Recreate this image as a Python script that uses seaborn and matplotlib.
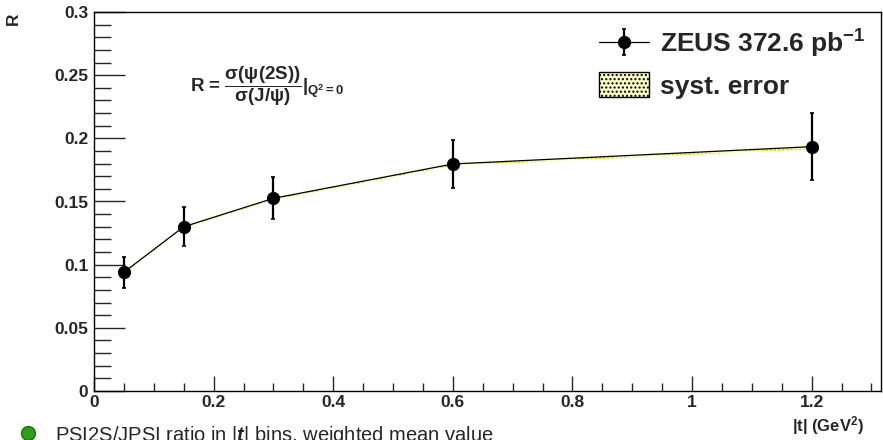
import numpy as np
import pandas as pd
import matplotlib
matplotlib.use("Agg")
import matplotlib.pyplot as plt
import seaborn as sns
from matplotlib.lines import Line2D
from matplotlib.patches import Patch
from matplotlib.legend_handler import HandlerTuple

# ---- data ----
t_vals = [0.05, 0.15, 0.30, 0.60, 1.20]
r_vals = [0.094, 0.130, 0.1525, 0.1797, 0.1934]
err_lo = [0.0127, 0.0152, 0.0163, 0.0190, 0.0264]
err_hi = [0.0124, 0.0154, 0.0172, 0.0190, 0.0264]
syst_lo = [0.0930, 0.1290, 0.1512, 0.1782, 0.1912]
syst_hi = [0.0943, 0.1303, 0.1527, 0.1798, 0.1932]
x_ticks = [0, 0.2, 0.4, 0.6, 0.8, 1.0, 1.2]
x_tick_labels = ["0", "0.2", "0.4", "0.6", "0.8", "1", "1.2"]
y_ticks = [0, 0.05, 0.10, 0.15, 0.20, 0.25, 0.30]
y_tick_labels = ["0", "0.05", "0.1", "0.15", "0.2", "0.25", "0.3"]

df = pd.DataFrame({"t": t_vals, "R": r_vals})

sns.set_theme(style="ticks")
plt.rcParams["font.family"] = ["Liberation Sans", "DejaVu Sans"]
plt.rcParams["font.weight"] = "bold"
plt.rcParams["mathtext.fontset"] = "custom"
plt.rcParams["mathtext.rm"] = "Liberation Sans:bold"
plt.rcParams["mathtext.it"] = "Liberation Sans:italic"
plt.rcParams["mathtext.bf"] = "Liberation Sans:bold"
plt.rcParams["hatch.linewidth"] = 1.0
plt.rcParams["hatch.color"] = "#d4d400"

fig = plt.figure(figsize=(8.83, 4.40), dpi=100)
ax = fig.add_axes([94 / 883, 1 - 391 / 440, (881 - 94) / 883, (391 - 12) / 440])

# systematic band
band = ax.fill_between(t_vals, syst_lo, syst_hi, facecolor="#fdfdc8",
                       edgecolor="#d4d400", hatch="....", linewidth=0.0, zorder=1)

sns.lineplot(data=df, x="t", y="R", ax=ax, color="black", linewidth=0.9,
             zorder=2, legend=False)
line_handle = ax.get_lines()[-1]
eb = ax.errorbar(t_vals, r_vals, yerr=[err_lo, err_hi], fmt="o", color="black",
                 markersize=8.5, elinewidth=1.6, capsize=1.5, capthick=1.2, zorder=3)

ax.set_xlim(0, 1.316)
ax.set_ylim(0, 0.3)
ax.set_xticks(x_ticks)
ax.set_xticklabels(x_tick_labels)
ax.set_yticks(y_ticks)
ax.set_yticklabels(y_tick_labels)
ax.set_xticks(np.arange(0, 1.32, 0.05), minor=True)
ax.set_yticks(np.arange(0, 0.301, 0.01), minor=True)
ax.tick_params(axis="y", which="major", direction="in", length=22, width=1, labelsize=12.5, pad=4, right=False)
ax.tick_params(axis="y", which="minor", direction="in", length=12, width=1)
ax.tick_params(axis="x", which="major", direction="in", length=11, width=1, labelsize=12.5, pad=3, top=False)
ax.tick_params(axis="x", which="minor", direction="in", length=6, width=1)
for lab in ax.get_xticklabels() + ax.get_yticklabels():
    lab.set_fontweight("bold")
for s in ax.spines.values():
    s.set_visible(True)
    s.set_linewidth(1.0)
    s.set_color("black")
ax.set_xlabel("")
ax.set_ylabel("")

# axis titles
fig.text(13 / 883, 1 - 19 / 440, "R", rotation=90, ha="center", va="center",
         fontsize=12.5, fontweight="bold")
fig.text(864 / 883, 1 - 426 / 440, r"|t| (GeV$^{2}$)", ha="right", va="center",
         fontsize=12, fontweight="bold")

# formula
ax.text(0.16, 0.241,
        r"R = $\dfrac{\mathrm{\sigma(\psi(2S))}}{\mathrm{\sigma(J/\psi)}}|_{\mathrm{Q^{2}=0}}$",
        fontsize=13.5, fontweight="bold", ha="left", va="center")

# legend
syst_patch = Patch(facecolor="#fdfdc8", edgecolor="black", hatch="....", linewidth=1.0)
leg = ax.legend([(line_handle, eb), syst_patch],
                [r"ZEUS 372.6 pb$^{-1}$", "syst. error"],
                handler_map={tuple: HandlerTuple(ndivide=1)},
                loc="upper right", bbox_to_anchor=(1.0, 1.0), frameon=False,
                prop={"size": 19, "weight": "bold"}, handlelength=1.9,
                handleheight=1.1, labelspacing=0.45, handletextpad=0.4,
                borderaxespad=0.2)

# bottom caption
fig.add_artist(Line2D([28 / 883], [1 - 433 / 440], marker="o", color="#2e9e1a",
                      markersize=10, markeredgecolor="#1f6e10", transform=fig.transFigure))
fig.text(55 / 883, 1 - 424 / 440, r"PSI2S/JPSI ratio in |$t$| bins, weighted mean value",
         ha="left", va="top", fontsize=14.5, fontweight="normal",
         fontfamily=["Liberation Sans", "DejaVu Sans"])

fig.savefig("out.png", dpi=100)
